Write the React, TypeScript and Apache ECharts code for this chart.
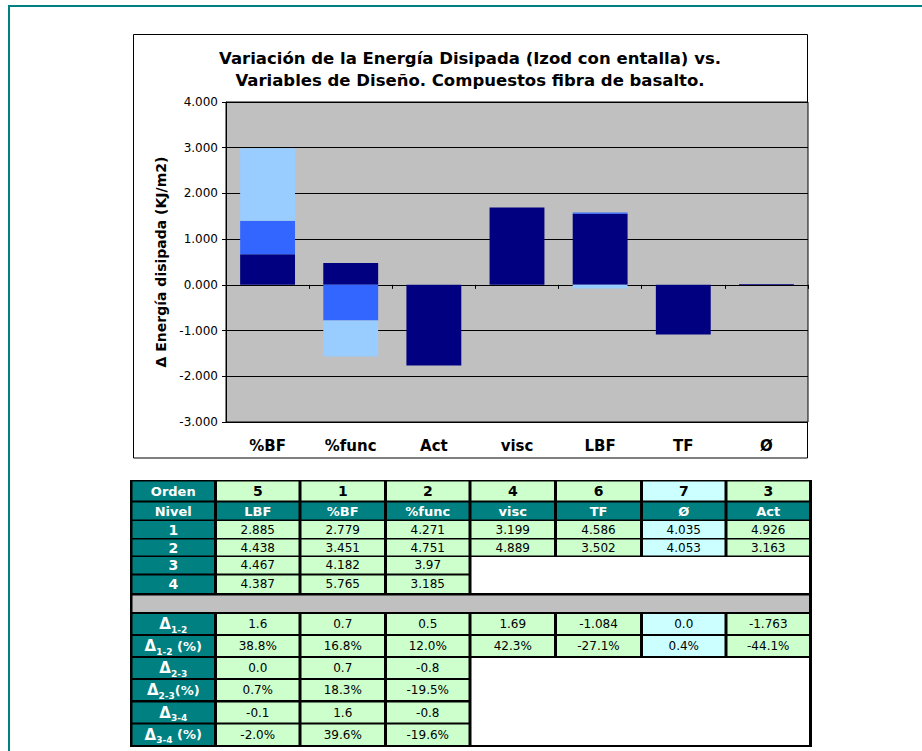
import { useEffect, useRef } from 'react';
import * as echarts from 'echarts';

const FONT = '"DejaVu Sans", Verdana, sans-serif';

// ---- chart data ----
const categories = ['%BF', '%func', 'Act', 'visc', 'LBF', 'TF', 'Ø'];
const delta12Values = [0.672, 0.48, -1.763, 1.69, 1.553, -1.084, 0.018];
const delta23Values = [0.731, -0.781, null, null, 0.029, null, null];
const delta34Values = [1.583, -0.785, null, null, -0.08, null, null];
const titleLine1 = 'Variación de la Energía Disipada (Izod con entalla) vs.';
const titleLine2 = 'Variables de Diseño. Compuestos fibra de basalto.';
const yAxisName = 'Δ Energía disipada (KJ/m2)';

// ---- table data ----
const orden = ['5', '1', '2', '4', '6', '7', '3'];
const tableVars = ['LBF', '%BF', '%func', 'visc', 'TF', 'Ø', 'Act'];
const nivel1 = ['2.885', '2.779', '4.271', '3.199', '4.586', '4.035', '4.926'];
const nivel2 = ['4.438', '3.451', '4.751', '4.889', '3.502', '4.053', '3.163'];
const nivel3 = ['4.467', '4.182', '3.97'];
const nivel4 = ['4.387', '5.765', '3.185'];
const delta12 = ['1.6', '0.7', '0.5', '1.69', '-1.084', '0.0', '-1.763'];
const delta12p = ['38.8%', '16.8%', '12.0%', '42.3%', '-27.1%', '0.4%', '-44.1%'];
const delta23 = ['0.0', '0.7', '-0.8'];
const delta23p = ['0.7%', '18.3%', '-19.5%'];
const delta34 = ['-0.1', '1.6', '-0.8'];
const delta34p = ['-2.0%', '39.6%', '-19.6%'];

const TEAL = '#008080';
const GREEN = '#CCFFCC';
const CYAN = '#CCFFFF';
const GRAY = '#C0C0C0';

const colEdges = [131, 215.5, 300, 385.5, 470, 555.5, 641.5, 726, 810.5];
const R = {
  orden: [481.5, 500.5],
  nivel: [502.5, 519.5],
  r1: [521, 538],
  r2: [539.5, 555.5],
  r3: [557, 573.5],
  r4: [575.5, 593],
  gray: [595.5, 612],
  d12: [614, 634],
  d12p: [636, 656],
  d23: [658, 678],
  d23p: [680, 700],
  d34: [702.5, 722.5],
  d34p: [724.5, 745],
};

function buildTable(): any[] {
  const els: any[] = [];
  els.push({ type: 'rect', silent: true, shape: { x: 130, y: 480, width: 682, height: 267 }, style: { fill: '#000' } });
  const rect = (c0: number, c1: number, top: number, bottom: number, fill: string) => {
    const x = colEdges[c0] + 1.5;
    const x2 = colEdges[c1 + 1] - 1.5;
    els.push({ type: 'rect', silent: true, shape: { x, y: top, width: x2 - x, height: bottom - top }, style: { fill } });
  };
  const text = (c: number, box: number[], t: string, color: string, size: number, bold: boolean) => {
    els.push({
      type: 'text', silent: true,
      x: (colEdges[c] + colEdges[c + 1]) / 2, y: (box[0] + box[1]) / 2,
      style: { text: t, fill: color, fontSize: size, fontWeight: bold ? 'bold' : 'normal', fontFamily: FONT, align: 'center', verticalAlign: 'middle' },
    });
  };
  const deltaLabel = (box: number[], sub: string, pct: string) => {
    els.push({
      type: 'text', silent: true,
      x: (colEdges[0] + colEdges[1]) / 2, y: (box[0] + box[1]) / 2,
      style: {
        text: '{d|Δ}{s|' + sub + '}' + (pct ? '{p|' + pct + '}' : ''),
        align: 'center', verticalAlign: 'middle',
        rich: {
          d: { fill: '#fff', fontSize: 15, fontWeight: 'bold', fontFamily: FONT, lineHeight: 20, verticalAlign: 'middle' },
          s: { fill: '#fff', fontSize: 9, fontWeight: 'bold', fontFamily: FONT, lineHeight: 11, verticalAlign: 'bottom' },
          p: { fill: '#fff', fontSize: 13, fontWeight: 'bold', fontFamily: FONT, lineHeight: 20, verticalAlign: 'middle' },
        },
      },
    });
  };
  const dataFill = (i: number) => (i === 5 ? CYAN : GREEN);

  // Orden row
  rect(0, 0, R.orden[0], R.orden[1], TEAL);
  for (let i = 0; i < 7; i++) rect(i + 1, i + 1, R.orden[0], R.orden[1], dataFill(i));
  text(0, R.orden, 'Orden', '#fff', 13, true);
  orden.forEach((v, i) => text(i + 1, R.orden, v, '#000', 14, true));
  // Nivel row
  for (let i = 0; i < 8; i++) rect(i, i, R.nivel[0], R.nivel[1], TEAL);
  text(0, R.nivel, 'Nivel', '#fff', 13, true);
  tableVars.forEach((v, i) => text(i + 1, R.nivel, v, '#fff', 13, true));
  // full rows
  const fullRow = (box: number[], label: string | null, vals: string[]) => {
    rect(0, 0, box[0], box[1], TEAL);
    for (let i = 0; i < 7; i++) rect(i + 1, i + 1, box[0], box[1], dataFill(i));
    if (label) text(0, box, label, '#fff', 14, true);
    vals.forEach((v, i) => text(i + 1, box, v, '#000', 12, false));
  };
  const partRow = (box: number[], label: string | null, vals: string[]) => {
    rect(0, 0, box[0], box[1], TEAL);
    for (let i = 0; i < 3; i++) rect(i + 1, i + 1, box[0], box[1], GREEN);
    if (label) text(0, box, label, '#fff', 14, true);
    vals.forEach((v, i) => text(i + 1, box, v, '#000', 12, false));
  };
  fullRow(R.r1, '1', nivel1);
  fullRow(R.r2, '2', nivel2);
  partRow(R.r3, '3', nivel3);
  partRow(R.r4, '4', nivel4);
  rect(4, 7, R.r3[0], R.r4[1], '#fff');
  rect(0, 7, R.gray[0], R.gray[1], GRAY);
  fullRow(R.d12, null, delta12);
  deltaLabel(R.d12, '1-2', '');
  fullRow(R.d12p, null, delta12p);
  deltaLabel(R.d12p, '1-2', ' (%)');
  partRow(R.d23, null, delta23);
  deltaLabel(R.d23, '2-3', '');
  partRow(R.d23p, null, delta23p);
  deltaLabel(R.d23p, '2-3', '(%)');
  partRow(R.d34, null, delta34);
  deltaLabel(R.d34, '3-4', '');
  partRow(R.d34p, null, delta34p);
  deltaLabel(R.d34p, '3-4', ' (%)');
  rect(4, 7, R.d23[0], R.d34p[1], '#fff');
  return els;
}

export default function App() {
  const ref = useRef<HTMLDivElement>(null);
  useEffect(() => {
    if (!ref.current) return;
    const chart = echarts.init(ref.current, null, { renderer: 'svg' });
    const graphics: any[] = [
      { type: 'line', silent: true, shape: { x1: 8, y1: 6, x2: 922, y2: 6 }, style: { stroke: TEAL, lineWidth: 2 } },
      { type: 'line', silent: true, shape: { x1: 9, y1: 5, x2: 9, y2: 751 }, style: { stroke: TEAL, lineWidth: 2 } },
      { type: 'rect', silent: true, z: -10, shape: { x: 133.5, y: 34.5, width: 674, height: 423.5 }, style: { fill: 'none', stroke: '#000', lineWidth: 1 } },
      { type: 'text', silent: true, x: 470, y: 58, style: { text: titleLine1, fill: '#000', fontSize: 16.5, fontWeight: 'bold', fontFamily: FONT, align: 'center', verticalAlign: 'middle' } },
      { type: 'text', silent: true, x: 470, y: 80, style: { text: titleLine2, fill: '#000', fontSize: 16.5, fontWeight: 'bold', fontFamily: FONT, align: 'center', verticalAlign: 'middle' } },
      ...buildTable(),
    ];
    chart.setOption({
      animation: false,
      backgroundColor: '#fff',
      grid: { left: 226, top: 102, width: 582, height: 320, show: true, backgroundColor: GRAY, borderColor: '#000', borderWidth: 1 },
      xAxis: [
        {
          type: 'category', data: categories, position: 'bottom',
          axisLine: { show: false, onZero: false }, axisTick: { show: false },
          axisLabel: { color: '#000', fontSize: 15, fontWeight: 'bold', fontFamily: FONT, margin: 16 },
          splitLine: { show: false },
        },
        {
          type: 'category', data: categories, position: 'top',
          axisLine: { show: true, onZero: true, lineStyle: { color: '#000', width: 1 } },
          axisTick: { show: true, inside: true, length: 4, lineStyle: { color: '#000' } },
          axisLabel: { show: false },
          splitLine: { show: false },
        },
      ],
      yAxis: {
        type: 'value', min: -3, max: 4, interval: 1,
        name: yAxisName, nameLocation: 'middle', nameRotate: 90, nameGap: 56,
        nameTextStyle: { color: '#000', fontSize: 14, fontWeight: 'bold', fontFamily: FONT },
        axisLine: { show: true, lineStyle: { color: '#000', width: 1 } },
        axisTick: { show: true, length: 4, lineStyle: { color: '#000' } },
        axisLabel: { color: '#000', fontSize: 12, fontFamily: FONT, margin: 8, formatter: (v: number) => v.toFixed(3) },
        splitLine: { show: true, lineStyle: { color: '#000', width: 1 } },
      },
      series: [
        { name: 'Δ1-2', type: 'bar', stack: 'total', barWidth: '66%', data: delta12Values, itemStyle: { color: '#000080' } },
        { name: 'Δ2-3', type: 'bar', stack: 'total', barWidth: '66%', data: delta23Values, itemStyle: { color: '#3366FF' } },
        { name: 'Δ3-4', type: 'bar', stack: 'total', barWidth: '66%', data: delta34Values, itemStyle: { color: '#99CCFF' } },
      ],
      graphic: graphics,
    });
    return () => chart.dispose();
  }, []);
  return <div ref={ref} style={{ position: 'fixed', left: 0, top: 0, width: 922, height: 751, background: '#fff' }} />;
}
